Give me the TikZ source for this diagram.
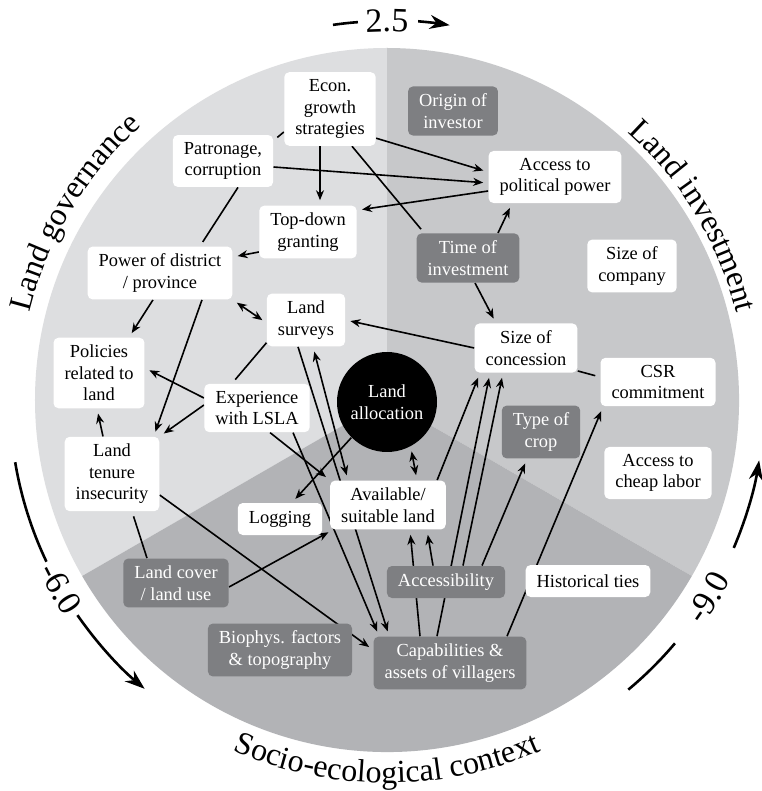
\documentclass[tikz,border=0pt]{standalone}
\usepackage{fontspec}
\setmainfont{Liberation Serif}
\usetikzlibrary{arrows.meta,calc,decorations.text}
\definecolor{govgray}{RGB}{221,222,224}
\definecolor{invgray}{RGB}{199,200,202}
\definecolor{socgray}{RGB}{178,179,182}
\definecolor{boxgray}{RGB}{126,127,130}
\pgfdeclarelayer{back}
\pgfdeclarelayer{links}
\pgfsetlayers{back,links,main}
\newcommand{\arcfont}{\fontsize{16}{19}\selectfont}
\newcommand{\numfont}{\fontsize{17}{20}\selectfont}
\tikzset{
  factor/.style={fill=white,rounded corners=2.5pt,align=center,inner xsep=5.5pt,inner ysep=3.6pt,
    minimum height=16pt,font=\fontsize{9.2}{10.8}\selectfont},
  fixed/.style={factor,fill=boxgray,text=white},
  link/.style={line width=0.8pt,shorten >=2.5pt},
  both/.style={link,<->,shorten <=2.5pt},
  scalearr/.style={line width=1.3pt,-{Stealth[length=10pt,width=7pt]}},
  arclabel/.style={decorate,decoration={text along path,text align=center,text={#1}}}
}
\begin{document}
\begin{tikzpicture}[x=0.5pt,y=0.5pt,>={Stealth[length=5pt,width=4pt]},line join=round]
\useasboundingbox (-387,-391) rectangle (374,400);
\begin{pgfonlayer}{back}
  \fill[white] (-387,-391) rectangle (374,400);
  \fill[govgray] (0,0) -- (90:352) arc[start angle=90,end angle=210,radius=352] -- cycle;
  \fill[invgray] (0,0) -- (-30:352) arc[start angle=-30,end angle=90,radius=352] -- cycle;
  \fill[socgray] (0,0) -- (210:352) arc[start angle=210,end angle=330,radius=352] -- cycle;
\end{pgfonlayer}
% sector titles
\path[arclabel={|\arcfont|Land governance}] (180:368) arc[start angle=180,end angle=118,radius=368];
\path[arclabel={|\arcfont|Land investment}] (62:360) arc[start angle=62,end angle=0,radius=360];
\path[arclabel={|\arcfont|Socio-ecological context}] (230:383) arc[start angle=230,end angle=310,radius=383];
% scale arcs
\draw[line width=1.3pt] (98.2:379) arc[start angle=98.2,end angle=94.4,radius=379];
\path[arclabel={|\numfont|2.5}] (100:368) arc[start angle=100,end angle=80,radius=368];
\draw[scalearr] (85.3:380) arc[start angle=85.3,end angle=80.5,radius=380];
\draw[line width=1.3pt] (189.5:377) arc[start angle=189.5,end angle=205.4,radius=377];
\path[arclabel={|\numfont|-6.0}] (200:388) arc[start angle=200,end angle=220,radius=388];
\draw[scalearr] (214.8:377) arc[start angle=214.8,end angle=230,radius=377];
\draw[line width=1.3pt] (-50.2:377) arc[start angle=-50.2,end angle=-40.2,radius=377];
\path[arclabel={|\numfont|-9.0}] (-41.6:388) arc[start angle=-41.6,end angle=-21.6,radius=388];
\draw[scalearr] (-23.1:377) arc[start angle=-23.1,end angle=-9.2,radius=377];
% factors
\node[factor] (econ) at (-57,291) {Econ.\\growth\\strategies};
\node[factor] (patron) at (-164,239) {Patronage,\\corruption};
\node[factor] (topdown) at (-79,168) {Top-down\\granting};
\node[factor] (power) at (-227,127) {Power of district\\/ province};
\node[factor] (access) at (168,223) {Access to\\political power};
\node[factor] (company) at (245,134) {Size of\\company};
\node[factor] (surveys) at (-81,80) {Land\\surveys};
\node[factor] (policies) at (-288,27) {Policies\\related to\\land};
\node[factor] (exper) at (-130,-8) {Experience\\with LSLA};
\node[factor] (tenure) at (-275,-74) {Land\\tenure\\insecurity};
\node[factor] (logging) at (-107,-119) {Logging};
\node[factor] (avail) at (1,-105) {Available/\\suitable land};
\node[factor] (concession) at (139,52) {Size of\\concession};
\node[factor] (csr) at (271,18) {CSR\\commitment};
\node[factor] (labor) at (271,-73) {Access to\\cheap labor};
\node[factor] (hist) at (201,-181) {Historical ties};
\node[fixed] (origin) at (66,289) {Origin of\\investor};
\node[fixed] (time) at (81,142) {Time of\\investment};
\node[fixed] (crop) at (154,-32) {Type of\\crop};
\node[fixed] (accessib) at (59,-182) {Accessibility};
\node[fixed] (cover) at (-211,-183) {Land cover\\/ land use};
\node[fixed] (biophys) at (-107,-250) {Biophys. factors\\\& topography};
\node[fixed] (capab) at (63,-263) {Capabilities \&\\assets of villagers};
\node[circle,fill=black,text=white,minimum size=50pt,inner sep=0pt,align=center,
  font=\fontsize{9.2}{10.8}\selectfont] (alloc) at (0,-2) {Land\\allocation};
% links
\begin{pgfonlayer}{links}
\draw[link,->] ($(econ.south)+(-10,0)$) -- ($(topdown.north)+(12,0)$);
\draw[link,->] ($(econ.south east)+(0,8)$) -- ($(access.west)+(0,5)$);
\draw[link,->] ($(patron.east)+(0,-6)$) -- ($(access.west)+(0,-6)$);
\draw[link,->] ($(access.west)+(0,-14)$) -- ($(topdown.north east)+(0,-5)$);
\draw[link] ($(econ.south)+(22,0)$) -- ($(time.north west)+(8,0)$);
\draw[link] ($(econ.west)+(0,-23)$) -- ($(patron.north east)+(0,-6)$);
\draw[link] ($(patron.south)+(15,0)$) -- ($(power.north)+(40,0)$);
\draw[link,->] ($(topdown.west)+(0,-20)$) -- ($(power.east)+(0,16)$);
\draw[link,->] ($(time.north)+(30,0)$) -- ($(access.south)+(-43,0)$);
\draw[link,->] ($(time.south)+(7,0)$) -- ($(concession.north)+(-30,0)$);
\draw[link,->] ($(power.south)+(-7,0)$) -- ($(policies.north)+(30,0)$);
\draw[both] (power.south east) -- ($(surveys.west)+(0,-3)$);
\draw[link,->] ($(power.south)+(42,0)$) -- ($(tenure.north east)+(-6,0)$);
\draw[link,->] (concession.west) -- (surveys.east);
\draw[link] ($(surveys.south west)+(0,4)$) -- ($(exper.north)+(-25,0)$);
\draw[link,->] ($(exper.west)+(0,10)$) -- ($(policies.east)+(0,5)$);
\draw[link,->] ($(exper.west)+(0,3)$) -- (tenure.north east);
\draw[link,->] ($(tenure.north)+(-9,0)$) -- ($(policies.south)+(-2,0)$);
\draw[link,->] ($(exper.south)+(13,0)$) -- (avail.north west);
\draw[link,->] ($(exper.south)+(36,0)$) -- ($(capab.north west)+(6,0)$);
\draw[link,->] ($(surveys.south)+(-8,0)$) -- ($(capab.north west)+(16,0)$);
\draw[both] ($(surveys.south)+(7,0)$) -- ($(avail.north)+(-40,0)$);
\draw[link,->] (alloc.225) -- ($(logging.north)+(12,0)$);
\draw[both] (alloc.-62) -- ($(avail.north)+(29,0)$);
\draw[link,->] ($(cover.east)+(0,-4)$) -- ($(avail.south west)+(3,0)$);
\draw[link] ($(cover.north)+(-29,0)$) -- ($(tenure.south)+(20,0)$);
\draw[link,->] ($(tenure.east)+(0,-21)$) -- ($(capab.west)+(0,13)$);
\draw[link,->] ($(capab.north)+(-30,0)$) -- ($(avail.south)+(22,0)$);
\draw[link,->] ($(accessib.north)+(-13,0)$) -- ($(avail.south)+(39,0)$);
\draw[link,->] ($(capab.north)+(-13,0)$) -- ($(concession.south)+(-36,0)$);
\draw[link,->] ($(avail.north east)+(-9,0)$) -- ($(concession.south)+(-46,0)$);
\draw[link,->] ($(accessib.north)+(17,0)$) -- ($(concession.south)+(-23,0)$);
\draw[link,->] ($(accessib.north)+(36,0)$) -- ($(crop.south)+(-14,0)$);
\draw[link,->] ($(capab.north)+(57,0)$) -- ($(csr.south west)+(3,0)$);
\draw[link] ($(concession.south east)+(0,2)$) -- ($(csr.west)+(0,5)$);
\end{pgfonlayer}
\end{tikzpicture}
\end{document}
